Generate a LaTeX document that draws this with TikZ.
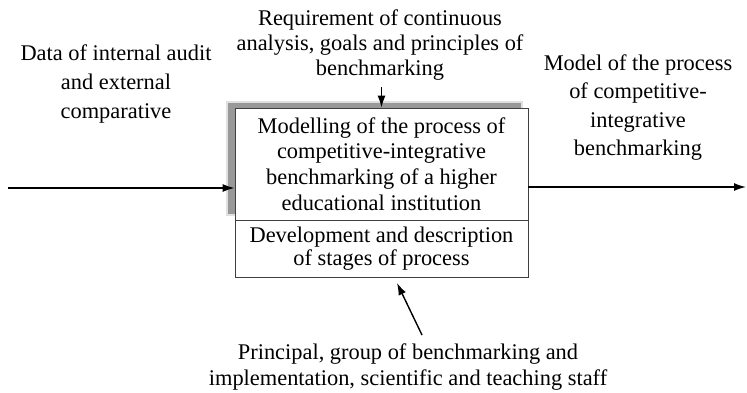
\documentclass[tikz,border=0pt]{standalone}
\usepackage{fontspec}
\setmainfont{Liberation Serif}
\usetikzlibrary{arrows.meta}
\begin{document}
\begin{tikzpicture}[x=1pt,y=-1pt,
  lbl/.style={align=center,inner sep=0pt,font=\fontsize{22.4}{#1}\selectfont},
  lbl/.default=25.5,
  boxnode/.style={draw=black!75,line width=0.8pt,fill=white,minimum width=293pt,inner sep=0pt,align=center},
  arr/.style={line width=1.4pt,-{Latex[length=12pt,width=8pt]}}]
\useasboundingbox (0,0) rectangle (747,392);
% shadow
\fill[black!12] (226,101) rectangle (523,216);
\fill[black!40] (228,103) rectangle (521,214);
\node[boxnode,minimum height=112pt,font=\fontsize{22.4}{25.7}\selectfont] (upper) at (381.5,164) {Modelling of the process of\\competitive-integrative\\benchmarking of a higher\\educational institution};
\node[boxnode,minimum height=57pt,font=\fontsize{22.4}{23}\selectfont] (lower) at (381.5,248.5) {Development and description\\of stages of process};
% labels
\node[lbl=25] (ctrl) at (380,45) {Requirement of continuous\\analysis, goals and principles of\\benchmarking};
\node[lbl=29] (inp) at (116,84) {Data of internal audit\\and external\\comparative};
\node[lbl=28.3] (outp) at (638,107.5) {Model of the process\\of competitive-\\integrative\\benchmarking};
\node[lbl=26] (mech) at (408,367.5) {Principal, group of benchmarking and\\implementation, scientific and teaching staff};
% connectors
\coordinate (inS) at (8,188);
\coordinate (outE) at (746,187);
\coordinate (ctrlS) at (381.5,87);
\coordinate (mechS) at (422,335);
\coordinate (mechE) at (397,283);
\draw[arr] (inS) -- (inS -| upper.west);
\draw[arr] (outE -| upper.east) -- (outE);
\draw[arr] (ctrlS) -- (upper.north);
\draw[arr] (mechS) -- (mechE);
\end{tikzpicture}
\end{document}
